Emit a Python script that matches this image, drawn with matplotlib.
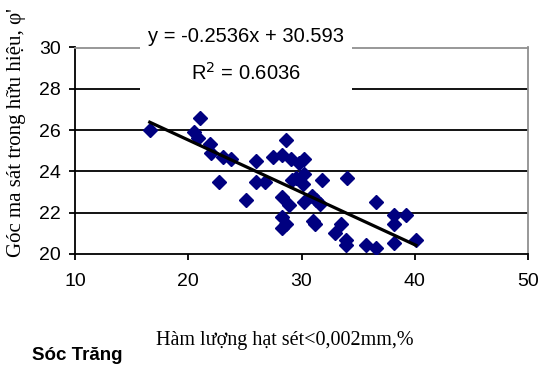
import numpy as np
import matplotlib
matplotlib.use("Agg")
import matplotlib.pyplot as plt
from matplotlib.patches import Rectangle

# clay content (%) and effective friction angle (deg), Soc Trang samples
clay = [16.6, 21.0, 20.5, 20.9, 21.9, 22.0, 22.7, 23.1, 23.8, 25.1,
        26.0, 26.0, 26.8, 27.5, 28.3, 28.6, 29.1, 28.3, 28.9, 28.3,
        28.3, 28.6, 29.2, 29.5, 29.8, 30.2, 30.2, 30.1, 30.2, 30.9,
        31.3, 31.6, 31.0, 31.2, 31.8, 34.0, 33.5, 33.0, 33.95, 33.95,
        35.7, 36.6, 36.6, 38.2, 38.2, 38.2, 39.2, 40.1]
phi = [26.0, 26.6, 25.9, 25.6, 25.35, 24.9, 23.5, 24.7, 24.6, 22.6,
       24.5, 23.5, 23.5, 24.7, 24.8, 25.5, 24.6, 22.75, 22.35, 21.8,
       21.25, 21.45, 23.6, 23.7, 24.4, 24.6, 23.85, 23.4, 22.5, 22.8,
       22.6, 22.4, 21.6, 21.45, 23.6, 23.7, 21.45, 21.0, 20.7, 20.45,
       20.45, 22.5, 20.3, 21.9, 21.45, 20.55, 21.9, 20.7]

slope = -0.2536
intercept = 30.593
r2 = 0.6036

x_ticks = [10, 20, 30, 40, 50]
y_ticks = [20, 22, 24, 26, 28, 30]

sans = ['Liberation Sans', 'DejaVu Sans']
serif = ['Liberation Serif', 'DejaVu Serif']

fig = plt.figure(figsize=(5.41, 3.69), dpi=100)
ax = fig.add_axes([75/541, 1-254/369, 453/541, 206.5/369])

ax.set_xlim(10, 50)
ax.set_ylim(20, 30)
ax.set_xticks(x_ticks)
ax.set_yticks(y_ticks)

for y in y_ticks[1:]:
    ax.axhline(y, color='black', lw=1.3, zorder=1)

ax.plot(clay, phi, linestyle='none', marker='D', ms=7.3, color='#000080', zorder=3)

xt = np.array([min(clay), max(clay)])
ax.plot(xt, slope*xt + intercept, color='black', lw=2.3, zorder=4)

for s in ['left', 'bottom']:
    ax.spines[s].set_color('black')
    ax.spines[s].set_linewidth(1.3)
for s in ['top', 'right']:
    ax.spines[s].set_color('#909090')
    ax.spines[s].set_linewidth(1.3)

ax.tick_params(direction='out', length=4, width=1.3, colors='black')
ax.tick_params(axis='y', pad=6)
ax.tick_params(axis='x', pad=10)
for lab in ax.get_xticklabels() + ax.get_yticklabels():
    lab.set_family(sans)
    lab.set_fontsize(14)

# white box behind trendline equation
ax.add_patch(Rectangle((0.1435, 0.77), 0.468, 0.35, transform=ax.transAxes,
                       facecolor='white', edgecolor='none', clip_on=False, zorder=5))
ax.text(0.377, 1.051, 'y = %.4fx + %.3f' % (slope, intercept), transform=ax.transAxes,
        ha='center', va='center', family=sans, fontsize=14.5, zorder=6)
ax.text(0.377, 0.877, 'R$^2$ = %.4f' % r2, transform=ax.transAxes,
        ha='center', va='center', family=sans, fontsize=14.5, zorder=6)

fig.text(285/541, 1-341/369, 'Hàm lượng hạt sét<0,002mm,%', ha='center', va='center',
         family=serif, fontsize=14.5)
fig.text(17/541, 1-133/369, "Góc ma sát trong hữu hiệu, φ'", ha='center', va='center',
         rotation=90, family=serif, fontsize=15)
fig.text(32/541, 1-356/369, 'Sóc Trăng', ha='left', va='center',
         family=sans, fontsize=13.5, fontweight='bold')

fig.savefig('out.png', dpi=100)
